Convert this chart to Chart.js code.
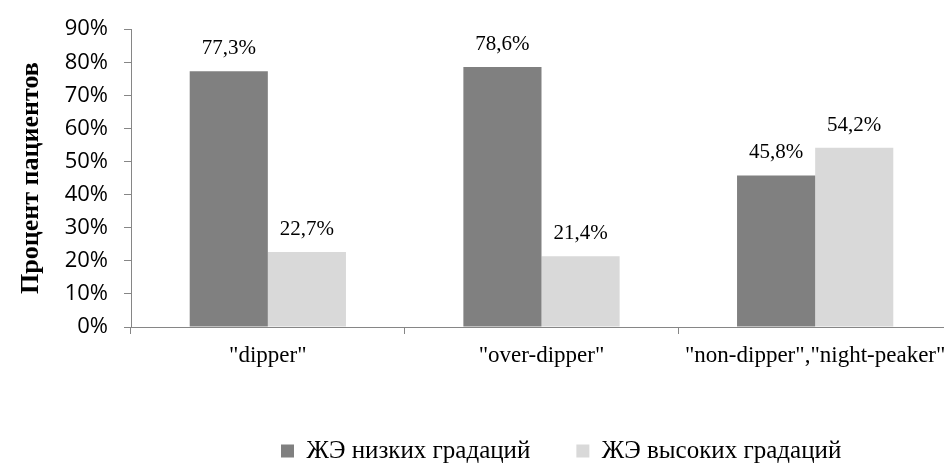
<!DOCTYPE html>
<html>
<head>
<meta charset="utf-8">
<script src="https://cdn.jsdelivr.net/npm/chart.js@4/dist/chart.umd.min.js"></script>
<style>
  html, body { margin: 0; padding: 0; background: #fff; overflow: hidden; }
  #wrap { width: 944px; height: 465px; overflow: hidden; position: relative; }
  canvas { display: block; }
</style>
</head>
<body>
<div id="wrap"><canvas id="chart" width="960" height="465"></canvas></div>
<script>
// Share of patients by circadian blood-pressure profile
const categories = ['"dipper"', '"over-dipper"', '"non-dipper","night-peaker"'];
const lowGrade = [77.3, 78.6, 45.8];   // ЖЭ низких градаций, %
const highGrade = [22.7, 21.4, 54.2];  // ЖЭ высоких градаций, %
const seriesNames = ['ЖЭ низких градаций', 'ЖЭ высоких градаций'];
const yTickValues = [0, 10, 20, 30, 40, 50, 60, 70, 80, 90];
const yAxisTitle = 'Процент пациентов';

const AXIS_COLOR = '#868686';
const SERIF = '"Liberation Serif", "Times New Roman", serif';
const SANS = '"Open Sans", "Liberation Sans", sans-serif';
const LEGEND_FONT = 25;

const fmtPct = v => v.toFixed(1).replace('.', ',') + '%';

// Value labels above each bar
const valueLabels = {
  id: 'valueLabels',
  afterDatasetsDraw(chart) {
    const ctx = chart.ctx;
    ctx.save();
    ctx.font = '21px ' + SERIF;
    ctx.fillStyle = '#000';
    ctx.textAlign = 'center';
    ctx.textBaseline = 'alphabetic';
    chart.data.datasets.forEach((ds, i) => {
      chart.getDatasetMeta(i).data.forEach((bar, j) => {
        ctx.fillText(fmtPct(ds.data[j]), bar.x, bar.y - 17);
      });
    });
    ctx.restore();
  }
};

// Legend sits under the right part of the plot
const legendPlacement = {
  id: 'legendPlacement',
  afterLayout(chart) {
    const L = chart.legend;
    if (!L) return;
    const w = L.right - L.left, h = L.bottom - L.top;
    L.left = 281 - L.options.labels.padding; L.right = L.left + w;
    L.top = 451 - L.options.labels.padding - LEGEND_FONT / 2; L.bottom = L.top + h;
  }
};

new Chart(document.getElementById('chart'), {
  type: 'bar',
  data: {
    labels: categories,
    datasets: [
      { label: seriesNames[0], data: lowGrade, backgroundColor: '#808080', borderWidth: 0,
        categoryPercentage: 0.571, barPercentage: 1 },
      { label: seriesNames[1], data: highGrade, backgroundColor: '#d9d9d9', borderWidth: 0,
        categoryPercentage: 0.571, barPercentage: 1 }
    ]
  },
  options: {
    responsive: false,
    animation: false,
    devicePixelRatio: 1,
    layout: { padding: { left: 12, right: 8, top: 26, bottom: 0 } },
    plugins: {
      tooltip: { enabled: false },
      legend: {
        position: 'bottom',
        align: 'start',
        labels: {
          boxWidth: 13,
          boxHeight: 13,
          padding: 46,
          color: '#000',
          font: { family: SERIF, size: LEGEND_FONT }
        }
      }
    },
    scales: {
      x: {
        grid: { display: true, drawOnChartArea: false, offset: true, tickLength: 7, color: AXIS_COLOR },
        border: { color: AXIS_COLOR, width: 1 },
        ticks: { color: '#000', font: { family: SERIF, size: 23 }, padding: 8,
                 autoSkip: false, maxRotation: 0, minRotation: 0 },
        afterFit(scale) {
          const lg = scale.chart.legend;
          scale.height = 465 - 327 - (lg ? lg.height : 0);
        }
      },
      y: {
        min: 0,
        max: 90,
        afterBuildTicks(scale) { scale.ticks = yTickValues.map(v => ({ value: v })); },
        grid: { display: true, drawOnChartArea: false, tickLength: 7, color: AXIS_COLOR },
        border: { color: AXIS_COLOR, width: 1 },
        ticks: { color: '#000', font: { family: SANS, size: 22 }, padding: 16,
                 callback: v => v + '%' },
        title: { display: true, text: yAxisTitle, color: '#000',
                 font: { family: SERIF, size: 26, weight: 'bold' }, padding: { top: 4, bottom: 4 } },
        afterFit(scale) { scale.width = 131 - 12; }
      }
    }
  },
  plugins: [valueLabels, legendPlacement]
});
</script>
</body>
</html>
